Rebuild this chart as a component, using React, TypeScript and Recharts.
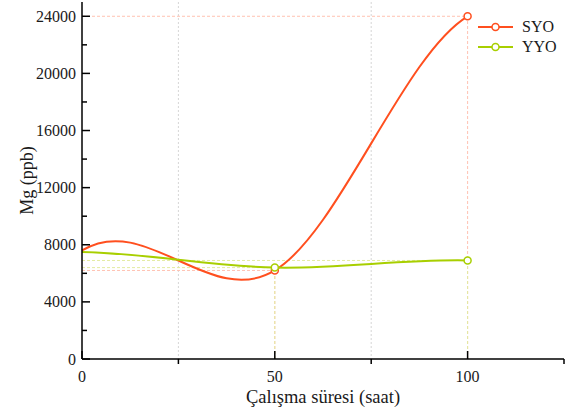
import React from 'react';
import { LineChart, Line, XAxis, YAxis, CartesianGrid, ReferenceLine, Legend, Label } from 'recharts';

// ---- data ----
const hours = [0, 50, 100];
const syoValues = [7600, 6200, 24000];
const yyoValues = [7500, 6400, 6900];
const xTicks = [0, 25, 50, 75, 100, 125];
const xTickLabels = [0, 50, 100];
const xGridValues = [25, 75];
const yTicks = [0, 2000, 4000, 6000, 8000, 10000, 12000, 14000, 16000, 18000, 20000, 22000, 24000];
const yTickLabels = [0, 4000, 8000, 12000, 16000, 20000, 24000];
const seriesNames = ['SYO', 'YYO'];
const xTitle = 'Çalışma süresi (saat)';
const yTitle = 'Mg (ppb)';

const FONT = "'Liberation Serif', 'Times New Roman', serif";
const TEXT = '#1a1a1a';

const series = [
  { key: 'syo', name: seriesNames[0], values: syoValues, color: '#FF4F1F', drop: '#FFC2B2' },
  { key: 'yyo', name: seriesNames[1], values: yyoValues, color: '#A8CF00', drop: '#E3EBA0' },
];

const data = hours.map((h, i) => ({ h, syo: syoValues[i], yyo: yyoValues[i] }));

// Cubic spline with periodic end conditions (as used by the original plotting tool)
function periodicSpline(context: any) {
  let xs: number[] = [];
  let ys: number[] = [];
  const solve = (A: number[][], b: number[]) => {
    const n = b.length;
    for (let c = 0; c < n; c++) {
      let p = c;
      for (let r = c + 1; r < n; r++) if (Math.abs(A[r][c]) > Math.abs(A[p][c])) p = r;
      [A[c], A[p]] = [A[p], A[c]];
      [b[c], b[p]] = [b[p], b[c]];
      for (let r = c + 1; r < n; r++) {
        const f = A[r][c] / A[c][c];
        for (let k = c; k < n; k++) A[r][k] -= f * A[c][k];
        b[r] -= f * b[c];
      }
    }
    const x = new Array(n).fill(0);
    for (let r = n - 1; r >= 0; r--) {
      let s = b[r];
      for (let k = r + 1; k < n; k++) s -= A[r][k] * x[k];
      x[r] = s / A[r][r];
    }
    return x;
  };
  return {
    areaStart() {},
    areaEnd() {},
    lineStart() {
      xs = [];
      ys = [];
    },
    point(x: number, y: number) {
      xs.push(+x);
      ys.push(+y);
    },
    lineEnd() {
      const n = xs.length;
      if (n === 0) return;
      context.moveTo(xs[0], ys[0]);
      if (n === 1) return;
      if (n === 2) {
        context.lineTo(xs[1], ys[1]);
        return;
      }
      const k = n - 1;
      const h = [] as number[];
      const dy = [] as number[];
      for (let j = 0; j < k; j++) {
        h.push(xs[j + 1] - xs[j]);
        dy.push(ys[j + 1] - ys[j]);
      }
      const A = Array.from({ length: k }, () => new Array(k).fill(0));
      const rhs = new Array(k).fill(0);
      for (let i = 0; i < k; i++) {
        const prev = (i - 1 + k) % k;
        const next = (i + 1) % k;
        const a = h[prev];
        const b = h[i];
        A[i][prev] += 2 / a;
        A[i][i] += 4 / a + 4 / b;
        A[i][next] += 2 / b;
        rhs[i] = (6 * dy[i]) / (b * b) + (6 * dy[prev]) / (a * a);
      }
      const m = solve(A, rhs);
      m.push(m[0]);
      for (let j = 0; j < k; j++) {
        const hh = h[j];
        context.bezierCurveTo(
          xs[j] + hh / 3,
          ys[j] + (m[j] * hh) / 3,
          xs[j + 1] - hh / 3,
          ys[j + 1] - (m[j + 1] * hh) / 3,
          xs[j + 1],
          ys[j + 1]
        );
      }
    },
  };
}

const XTick = (props: any) => {
  const { x, y, payload } = props;
  const v = payload.value;
  const labelled = xTickLabels.includes(v);
  return (
    <g>
      <line x1={x} x2={x} y1={y} y2={labelled ? y - 8 : y + 5} stroke="#000" strokeWidth={1.5} />
      {labelled && (
        <text x={x} y={y + 23} textAnchor="middle" fontSize={16} fontFamily={FONT} fill={TEXT}>
          {v}
        </text>
      )}
    </g>
  );
};

const YTick = (props: any) => {
  const { x, y, payload } = props;
  const v = payload.value;
  const labelled = yTickLabels.includes(v);
  return (
    <g>
      <line x1={x} x2={labelled ? x + 8 : x + 5} y1={y} y2={y} stroke="#000" strokeWidth={1.5} />
      {labelled && (
        <text x={x - 6} y={y} dy="0.35em" textAnchor="end" fontSize={16} fontFamily={FONT} fill={TEXT}>
          {v}
        </text>
      )}
    </g>
  );
};

const renderXTitle = (p: any) => {
  const vb = p.viewBox;
  return (
    <text x={vb.x + vb.width / 2} y={vb.y + 44} textAnchor="middle" fontSize={18.5} fontFamily={FONT} fill={TEXT}>
      {xTitle}
    </text>
  );
};

const renderYTitle = (p: any) => {
  const vb = p.viewBox;
  const cx = vb.x + 27;
  const cy = vb.y + vb.height / 2;
  return (
    <text
      x={cx}
      y={cy}
      dy="0.35em"
      textAnchor="middle"
      fontSize={18}
      fontFamily={FONT}
      fill={TEXT}
      transform={`rotate(-90 ${cx} ${cy})`}
    >
      {yTitle}
    </text>
  );
};

const makeDot = (color: string) => (props: any) => {
  const { cx, cy, index, key } = props;
  if (hours[index] === 0) return <g key={key ?? `d-${color}-${index}`} />;
  return <circle key={key ?? `d-${color}-${index}`} cx={cx} cy={cy} r={3.5} fill="#fff" stroke={color} strokeWidth={1.5} />;
};

const LegendContent = () => (
  <div style={{ fontFamily: FONT, fontSize: 16, color: TEXT }}>
    {series.map((s) => (
      <div key={s.key} style={{ display: 'flex', alignItems: 'center', height: 20 }}>
        <svg width={46} height={20} style={{ display: 'block' }}>
          <line x1={2} x2={37} y1={10} y2={10} stroke={s.color} strokeWidth={2} />
          <circle cx={19.5} cy={10} r={3.5} fill="#fff" stroke={s.color} strokeWidth={1.5} />
        </svg>
        <span style={{ lineHeight: '20px' }}>{s.name}</span>
      </div>
    ))}
  </div>
);

export default function App() {
  return (
    <div style={{ width: 571, height: 416, background: '#fff' }}>
      <style>{`body{margin:0;background:#fff}`}</style>
      <LineChart width={571} height={416} data={data} margin={{ top: 2, right: 7, left: 0, bottom: 0 }}>
        <CartesianGrid horizontal={false} verticalValues={xGridValues} stroke="#d6d6d6" strokeDasharray="2 2" />
        <XAxis
          dataKey="h"
          type="number"
          domain={[0, 125]}
          ticks={xTicks}
          interval={0}
          height={57}
          tickSize={0}
          tickMargin={0}
          tickLine={false}
          tick={<XTick />}
          axisLine={{ stroke: '#000', strokeWidth: 1.5 }}
        >
          <Label content={renderXTitle} />
        </XAxis>
        <XAxis
          xAxisId="top"
          orientation="top"
          type="number"
          domain={[0, 125]}
          height={0}
          tick={false}
          tickLine={false}
          axisLine={{ stroke: '#000', strokeWidth: 1.5 }}
        />
        <YAxis
          type="number"
          domain={[0, 25000]}
          ticks={yTicks}
          interval={0}
          width={82}
          tickSize={0}
          tickMargin={0}
          tickLine={false}
          tick={<YTick />}
          axisLine={{ stroke: '#000', strokeWidth: 1.5 }}
        >
          <Label content={renderYTitle} />
        </YAxis>
        <YAxis
          yAxisId="right"
          orientation="right"
          type="number"
          domain={[0, 25000]}
          width={0}
          tick={false}
          tickLine={false}
          axisLine={{ stroke: '#000', strokeWidth: 1.5 }}
        />
        {series.flatMap((s) =>
          hours.flatMap((h, i) =>
            h > 0
              ? [
                  <ReferenceLine
                    key={`${s.key}-h-${i}`}
                    segment={[{ x: 0, y: s.values[i] }, { x: h, y: s.values[i] }]}
                    stroke={s.drop}
                    strokeDasharray="3 2"
                    strokeWidth={1}
                  />,
                  <ReferenceLine
                    key={`${s.key}-v-${i}`}
                    segment={[{ x: h, y: 0 }, { x: h, y: s.values[i] }]}
                    stroke={s.drop}
                    strokeDasharray="3 2"
                    strokeWidth={1}
                  />,
                ]
              : []
          )
        )}
        {series.map((s) => (
          <Line
            key={s.key}
            type={periodicSpline as any}
            dataKey={s.key}
            name={s.name}
            stroke={s.color}
            strokeWidth={2}
            dot={makeDot(s.color)}
            activeDot={false}
            isAnimationActive={false}
          />
        ))}
        <Legend
          layout="vertical"
          align="center"
          verticalAlign="middle"
          content={<LegendContent />}
          wrapperStyle={{ top: 17, left: 476, width: 'auto' }}
        />
      </LineChart>
    </div>
  );
}
